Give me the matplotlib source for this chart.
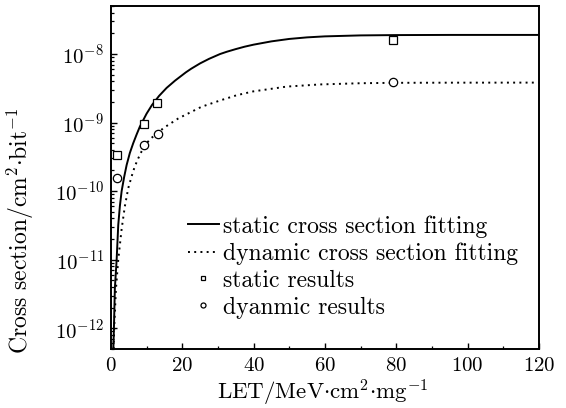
import matplotlib
matplotlib.use("Agg")
import matplotlib.pyplot as plt
from matplotlib.ticker import LogLocator, MultipleLocator, NullFormatter

plt.rcParams["font.family"] = "serif"
plt.rcParams["font.serif"] = ["cmr10", "DejaVu Serif"]
plt.rcParams["mathtext.fontset"] = "cm"
plt.rcParams["axes.unicode_minus"] = False
plt.rcParams["axes.formatter.use_mathtext"] = True

# fitted curves (LET, cross section)
static_fit_let = [0.68, 0.84, 1.1, 1.6, 2.05, 2.5, 3.0, 3.7, 4.4, 5.3, 6.25, 7.2, 8.1,
                  10.0, 11.5, 13.5, 15.6, 18, 21, 22.5, 25, 27.5, 30.6, 32.5, 35, 37.5,
                  40, 45, 50, 55, 60, 70, 80, 95, 120]
static_fit_sig = [5e-13, 1.0e-12, 3.8e-12, 1.0e-11, 3.2e-11, 6e-11, 1.0e-10, 1.6e-10,
                  2.4e-10, 3.6e-10, 5.0e-10, 6.7e-10, 8.7e-10, 1.35e-9, 1.8e-9, 2.45e-9,
                  3.2e-9, 4.1e-9, 5.4e-9, 6.1e-9, 7.3e-9, 8.5e-9, 1.0e-8, 1.08e-8,
                  1.18e-8, 1.28e-8, 1.37e-8, 1.53e-8, 1.66e-8, 1.75e-8, 1.81e-8,
                  1.87e-8, 1.89e-8, 1.9e-8, 1.9e-8]

dyn_fit_let = [0.75, 0.93, 1.4, 2.05, 3.0, 3.9, 4.85, 5.8, 6.7, 7.65, 8.6, 10.0, 11.4,
               13.1, 14.7, 18.9, 25.4, 30.6, 35.2, 39.9, 49.3, 58.6, 70, 79, 95, 120]
dyn_fit_sig = [5e-13, 1.07e-12, 3.7e-12, 1.0e-11, 2.8e-11, 6e-11, 1.1e-10, 1.64e-10,
               2.3e-10, 3.0e-10, 3.8e-10, 5.0e-10, 6.0e-10, 7.0e-10, 8.3e-10, 1.15e-9,
               1.7e-9, 2.1e-9, 2.5e-9, 2.85e-9, 3.35e-9, 3.6e-9, 3.75e-9, 3.8e-9,
               3.82e-9, 3.83e-9]

# measured points
static_let = [1.6, 9.2, 13.0, 79.2]
static_sig = [3.4e-10, 9.5e-10, 1.9e-9, 1.6e-8]
dyn_let = [1.6, 9.2, 13.1, 79.2]
dyn_sig = [1.53e-10, 4.7e-10, 6.7e-10, 3.9e-9]

y_decades = [1e-12, 1e-11, 1e-10, 1e-9, 1e-8]

fig = plt.figure(figsize=(5.66, 4.08), dpi=100)
ax = fig.add_axes([0.196, 0.145, 0.756, 0.840])

ax.plot(static_fit_let, static_fit_sig, "k-", lw=1.4,
        label="static cross section fitting")
ax.plot(dyn_fit_let, dyn_fit_sig, "k", lw=1.4, linestyle=(0, (1, 2.2)),
        label="dynamic cross section fitting")
ax.plot(static_let, static_sig, "ks", mfc="white", ms=5.5, mew=0.9, ls="none",
        label="static results")
ax.plot(dyn_let, dyn_sig, "ko", mfc="white", ms=6, mew=0.9, ls="none",
        label="dyanmic results")

ax.set_yscale("log")
ax.set_xlim(0, 120)
ax.set_ylim(5e-13, 5e-8)
ax.xaxis.set_major_locator(MultipleLocator(20))
ax.xaxis.set_minor_locator(MultipleLocator(10))
ax.set_yticks(y_decades)
ax.yaxis.set_minor_locator(LogLocator(base=10, subs=range(2, 10), numticks=10))
ax.yaxis.set_minor_formatter(NullFormatter())
ax.tick_params(which="both", direction="in", top=False, right=False, labelsize=15)
ax.tick_params(which="major", length=4.5, width=1.0)
ax.tick_params(which="minor", length=2.5, width=0.9)
ax.tick_params(axis="x", pad=6)
ax.tick_params(axis="y", pad=5)
for s in ax.spines.values():
    s.set_linewidth(1.4)

ax.set_xlabel(r"LET/MeV$\cdot$cm$^2$$\cdot$mg$^{-1}$", fontsize=16.5)
ax.set_ylabel(r"Cross section$/$cm$^2$$\cdot$bit$^{-1}$", fontsize=17)
ax.xaxis.set_label_coords(0.496, -0.085)
ax.yaxis.set_label_coords(-0.175, 0.345)

ax.legend(loc="upper left", bbox_to_anchor=(0.18, 0.39), frameon=False, fontsize=17,
          handlelength=1.3, handletextpad=0.2, labelspacing=0.2, markerscale=0.6,
          borderaxespad=0, borderpad=0)

fig.savefig("out.png", dpi=100)
